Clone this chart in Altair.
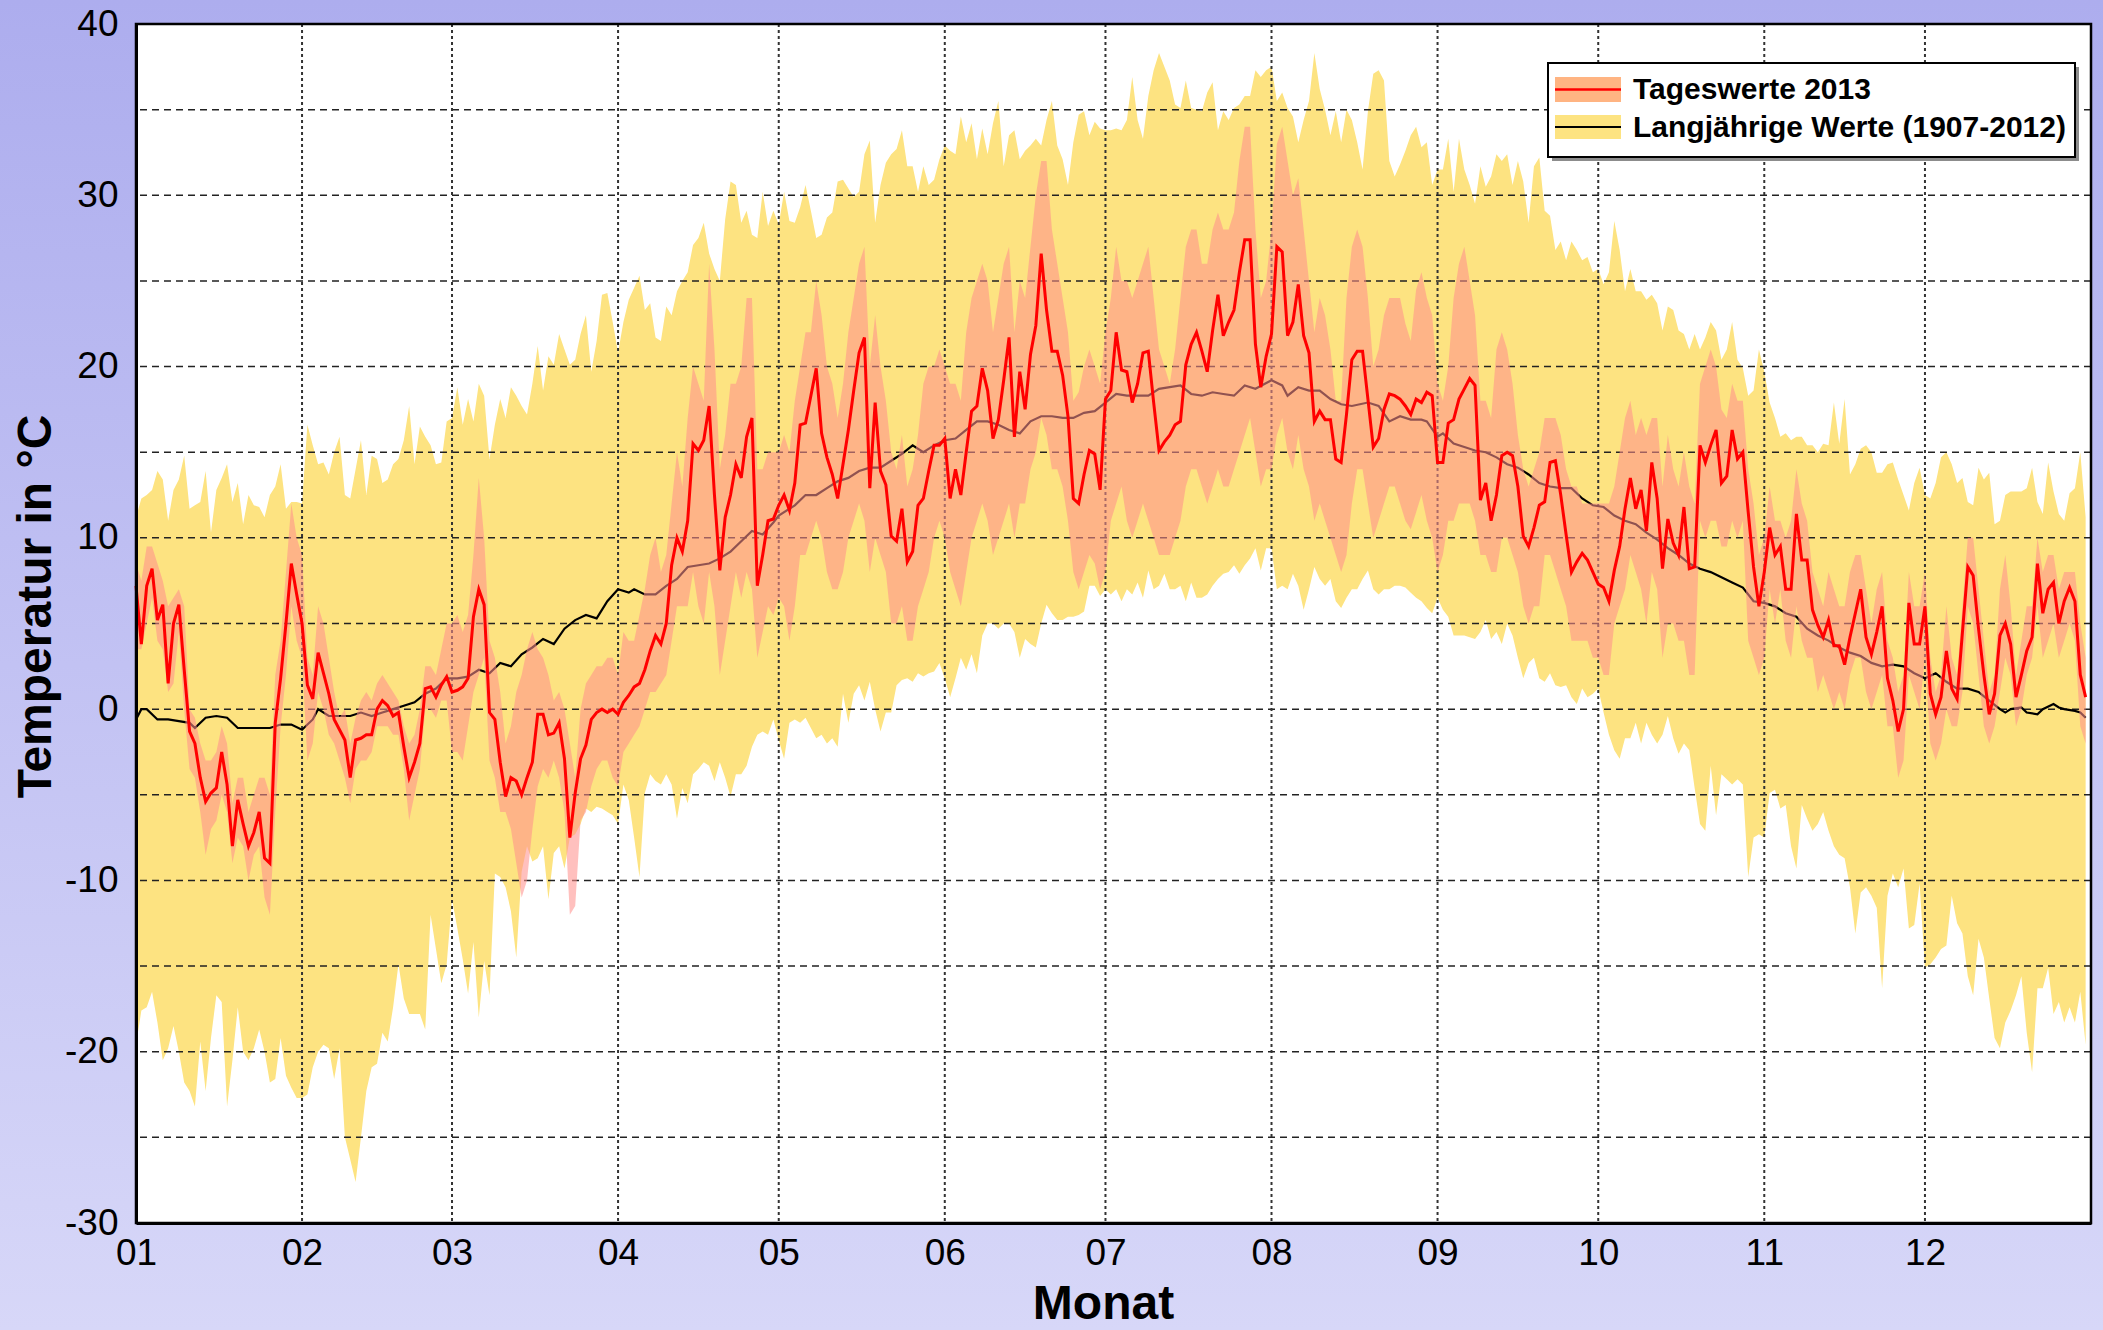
import altair as alt
import pandas as pd

# ---------------- data ----------------
MONTH_STARTS = [0, 31, 59, 90, 120, 151, 181, 212, 243, 273, 304, 334]
MONTH_LABELS = ["01", "02", "03", "04", "05", "06", "07", "08", "09", "10", "11", "12"]
Y_LABELS = [-30, -20, -10, 0, 10, 20, 30, 40]
GRID_Y = [-25, -20, -15, -10, -5, 0, 5, 10, 15, 20, 25, 30, 35]
GRID_X = MONTH_STARTS[1:]

# Tageswerte 2013: daily mean (red line)
RED = [
    7.2, 3.8, 7.2, 8.2, 5.2, 6.1, 1.5, 5.0, 6.1, 2.3,
    -1.3, -2.0, -4.0, -5.4, -4.9, -4.6, -2.5, -4.4, -8.0, -5.3,
    -6.7, -8.0, -7.2, -6.0, -8.7, -9.0, -0.8, 1.8, 5.0, 8.5,
    6.7, 5.0, 1.4, 0.6, 3.3, 2.1, 0.9, -0.6, -1.2, -1.8,
    -4.0, -1.8, -1.7, -1.5, -1.5, 0.0, 0.5, 0.2, -0.4, -0.2,
    -2.2, -4.0, -3.1, -2.0, 1.2, 1.3, 0.7, 1.4, 1.9, 1.0,
    1.1, 1.3, 1.8, 5.4, 7.0, 6.1, -0.2, -0.6, -3.1, -5.1,
    -4.0, -4.2, -5.0, -4.0, -3.1, -0.3, -0.3, -1.5, -1.4, -0.8,
    -2.9, -7.5, -4.9, -2.9, -2.1, -0.6, -0.2, 0.0, -0.2, 0.0,
    -0.3, 0.4, 0.8, 1.3, 1.5, 2.3, 3.4, 4.3, 3.8, 5.0,
    8.4, 10.0, 9.2, 11.0, 15.5, 15.1, 15.7, 17.7, 12.5, 8.1,
    11.2, 12.5, 14.3, 13.5, 15.9, 17.0, 7.2, 9.0, 11.0, 11.1,
    11.9, 12.5, 11.6, 13.2, 16.6, 16.7, 18.3, 19.9, 16.1, 14.7,
    13.7, 12.3, 14.3, 16.3, 18.6, 20.8, 21.7, 12.9, 17.9, 13.9,
    13.1, 10.1, 9.8, 11.7, 8.6, 9.2, 11.9, 12.3, 13.9, 15.4,
    15.4, 15.8, 12.3, 14.0, 12.5, 15.0, 17.4, 17.7, 19.9, 18.6,
    15.8, 16.9, 19.2, 21.7, 15.9, 19.7, 17.5, 20.7, 22.4, 26.6,
    23.3, 20.9, 20.9, 19.5, 17.1, 12.3, 12.0, 13.7, 15.1, 14.9,
    12.8, 18.1, 18.6, 22.0, 19.8, 19.7, 17.9, 19.0, 20.8, 20.9,
    17.9, 15.1, 15.6, 16.0, 16.6, 16.8, 20.1, 21.3, 22.0, 20.9,
    19.7, 22.1, 24.2, 21.8, 22.6, 23.3, 25.5, 27.4, 27.4, 21.3,
    18.8, 20.6, 21.9, 27.0, 26.7, 21.8, 22.6, 24.8, 21.8, 20.8,
    16.8, 17.4, 16.9, 16.9, 14.6, 14.4, 17.2, 20.4, 20.9, 20.9,
    18.1, 15.3, 15.8, 17.5, 18.4, 18.3, 18.1, 17.7, 17.2, 18.1,
    17.9, 18.5, 18.3, 14.4, 14.4, 16.7, 16.9, 18.1, 18.7, 19.3,
    18.9, 12.2, 13.2, 11.0, 12.5, 14.8, 15.0, 14.8, 13.0, 10.1,
    9.5, 10.6, 11.9, 12.1, 14.4, 14.5, 12.5, 10.2, 8.0, 8.6,
    9.1, 8.7, 8.0, 7.3, 7.1, 6.3, 8.1, 9.5, 11.7, 13.5,
    11.7, 12.8, 10.4, 14.4, 12.3, 8.2, 11.1, 9.7, 9.0, 11.8,
    8.2, 8.3, 15.4, 14.4, 15.4, 16.3, 13.2, 13.6, 16.3, 14.6,
    15.0, 11.5, 8.3, 6.0, 8.0, 10.6, 9.0, 9.5, 7.0, 7.0,
    11.4, 8.7, 8.7, 5.8, 4.9, 4.2, 5.2, 3.7, 3.7, 2.6,
    4.2, 5.6, 7.0, 4.2, 3.2, 4.5, 6.0, 1.8, 0.5, -1.3,
    0.0, 6.2, 3.8, 3.8, 6.0, 0.9, -0.3, 0.7, 3.4, 1.2,
    0.6, 4.5, 8.3, 7.8, 4.7, 2.0, -0.3, 0.9, 4.3, 5.0,
    3.8, 0.7, 2.0, 3.4, 4.2, 8.5, 5.6, 7.0, 7.4, 5.0,
    6.3, 7.1, 6.3, 2.0, 0.7,
]

# Tageswerte 2013: daily max / min (orange band)
OMAX = [
    8.5, 7.5, 9.5, 9.5, 8.5, 7.5, 6, 6.5, 7, 6,
    0, -0.5, -2, -3, -3, -2.5, -1, -2, -5.5, -4,
    -4, -6, -5, -4, -4, -5, 2, 4, 8, 12,
    10, 9, 3, 2, 6, 5, 3, 1, -0.5, 0,
    -2, -0.5, 0.5, 1, 0.5, 1.5, 2, 1.5, 1, 0.5,
    -1, -2, -1.5, 0, 2.5, 2.5, 2, 3.5, 5, 5,
    5.5, 4.5, 5.5, 9, 13.5, 10, 4, 3, 1, -2,
    -1, 1, 2, 3.5, 4.5, 3.5, 3, 2, 0.5, 1,
    0, -2, -4, 0, 1.5, 2, 2.5, 2.5, 3, 3,
    2, 4.5, 4, 4, 5.5, 7, 9, 10, 8, 9,
    12, 15, 13, 17, 20, 19, 18, 26, 21, 14,
    16, 19, 19, 20, 24, 24, 14, 14, 15, 15,
    15, 16, 15, 18, 20, 22, 22, 25, 23, 20,
    19, 17, 19, 22, 24, 26, 27, 20, 23, 20,
    18, 15, 14, 16, 13, 14, 16, 19, 20, 20,
    21, 20, 19, 19, 18, 22, 24, 25, 26, 25,
    22, 24, 26, 27, 22, 25, 24, 27, 30, 32,
    32, 28, 26, 24, 22, 18, 18.5, 20, 21, 20,
    19, 22, 24, 27, 25, 25, 24, 25, 26, 27,
    24, 21, 20, 19, 21, 24, 27, 28, 28, 26,
    26, 28, 29, 28, 28, 29, 32, 34, 34, 28,
    24, 25, 28, 33, 34, 32, 30, 31, 28, 25,
    22, 24, 23, 21, 18, 18, 24, 27, 28, 27,
    24, 20, 21, 23, 24, 24, 24, 22.5, 21.5, 24.5,
    25.5, 24, 23, 19, 18, 20, 24, 26, 27, 25,
    23, 18, 18, 17, 21, 22, 21, 19, 16, 14,
    13, 14, 15, 17, 17, 17, 16, 14, 13, 13,
    12, 12, 12, 12, 12, 12, 13, 15, 17, 18,
    16, 17, 16, 17, 17, 13, 16, 14, 13, 15,
    13, 12, 19, 20, 21, 20, 17.5, 17, 19, 18,
    18, 14, 12, 9, 10, 13, 11, 11, 10, 11,
    14, 12, 11, 8, 7, 6, 8, 7, 6, 6,
    8, 9, 9, 7, 5, 7, 8, 4, 3, 1,
    2, 8, 6, 6, 8, 3, 1, 2, 6, 3,
    2, 6, 10, 10, 7, 4, 1, 2, 7, 9,
    6, 2, 4, 6, 6, 10, 8, 9, 9, 7,
    8, 8, 8, 5, 3,
]
OMIN = [
    3.5, 3.5, 5, 6.5, 4, 3.5, 1, 1.5, 4.5, 0,
    -3.5, -4, -6, -8.5, -7, -6.5, -5, -6, -9, -7.5,
    -8, -10, -8.5, -8, -11, -12, -6, -1, 2, 6,
    4, 3, -3, -2, 1, 0, -1.5, -2, -3, -4,
    -5.5, -3.5, -3, -3, -2.5, -1, -1, -1, -1.5, -1.5,
    -3.5, -6.5, -5, -3.5, 0, 0, -0.5, 0.5, 0.5, -2.5,
    -2.5, -3, -1, 1, 2, 3, -3, -4, -6, -6,
    -7, -9, -11, -10, -7, -4.5, -3.5, -4, -3, -4,
    -6, -12, -11.5, -6.5, -6, -4.5, -3.5, -3, -3, -4,
    -4.5, -2.5, -2, -1.5, -1, 0, 1, 1, 1.5, 2,
    4, 6, 6, 6, 8, 6, 5, 8, 6, 2,
    4, 6, 8, 6.5, 8, 7, 3, 4.5, 6, 5.5,
    6.5, 6, 4, 6, 9, 9, 10, 11, 10, 8,
    7, 7, 8, 10, 11, 12, 11, 8, 10, 9,
    8, 5, 5, 6, 4, 4, 6, 7, 8, 10,
    11, 10, 8, 7, 6, 8, 10, 11, 12, 11,
    9, 10, 11, 12, 10, 12, 12, 14, 15, 17,
    16, 14, 14, 13, 11, 8, 7, 8, 9, 8.5,
    7, 8, 11, 12, 13, 11, 10, 11, 12, 11,
    10, 9, 9, 9, 10, 11, 13, 14, 14, 13,
    12, 13, 14, 13, 13, 14, 15, 16, 17, 15,
    13, 14, 14, 16, 17, 15, 14, 16, 14, 13,
    11, 12, 11, 10, 9, 8, 9, 12, 14, 14,
    12, 10, 11, 12, 13, 13, 12, 11, 10.5, 11.5,
    12.5, 11, 10, 8, 9, 11, 11, 12, 12, 12,
    11, 9, 9, 8, 8, 10, 10, 9, 8, 6,
    5, 6, 6, 9, 9, 8, 7, 6, 4, 4,
    4, 4, 3, 3, 2, 2, 5, 6, 7, 9,
    8, 7, 5, 8, 7, 3, 5, 5, 4, 4,
    2, 2, 11, 10, 11, 11, 9.5, 9.5, 11, 10,
    11, 4, 3, 2, 3, 7, 5, 7, 4, 3,
    6, 4, 3, 3, 1, 2, 1, 0, 1, 0,
    2, 3, 3, 1, 0, 1, 2, -1, -1, -4,
    -3, 2, 1, 0, 3, -2, -3, -2, 0, -1,
    -1, 1, 6, 5, 2, -1, -2, -1, 1, 3,
    2, -1, 0, 2, 3, 6, 3, 4, 5, 3,
    4, 5, 4, -1, -2,
]

# Langjaehrige Werte 1907-2012: absolute max / min (yellow band)
YMAX = [
    11.2, 12.3, 12.5, 12.8, 13.9, 13.4, 11.0, 12.8, 13.4, 14.8,
    11.7, 11.9, 12.1, 13.9, 10.3, 12.8, 13.5, 14.3, 12.1, 13.2,
    10.8, 12.5, 11.9, 11.8, 11.2, 12.5, 13.0, 14.3, 11.7, 12.1,
    12.1, 12.0, 16.6, 15.4, 14.3, 14.4, 13.7, 15.0, 15.9, 12.5,
    12.3, 14.0, 15.7, 12.5, 14.8, 14.6, 13.2, 13.4, 14.3, 14.6,
    15.7, 17.7, 14.3, 16.5, 15.9, 15.4, 14.3, 14.4, 16.8, 17.0,
    18.8, 16.6, 18.1, 16.8, 19.0, 18.3, 14.6, 16.6, 18.1, 17.0,
    18.8, 18.3, 17.7, 17.2, 19.0, 21.2, 18.6, 20.6, 20.1, 21.9,
    21.0, 20.1, 20.4, 21.9, 23.0, 19.7, 21.5, 24.2, 24.3, 22.6,
    20.8, 22.6, 23.9, 24.6, 25.3, 23.3, 23.7, 21.7, 21.5, 23.5,
    23.0, 24.4, 25.0, 25.5, 27.1, 27.5, 28.4, 26.6, 25.7, 25.0,
    28.6, 30.8, 30.6, 28.4, 29.1, 27.7, 27.5, 30.2, 28.2, 29.1,
    28.3, 30.2, 28.5, 28.4, 29.3, 30.6, 29.1, 27.5, 27.7, 28.7,
    29.0, 30.8, 30.9, 30.4, 29.9, 30.2, 32.4, 33.2, 28.4, 30.6,
    31.9, 32.4, 32.7, 33.8, 31.7, 31.7, 30.2, 31.7, 30.6, 30.9,
    32.1, 32.9, 32.6, 32.4, 34.6, 33.1, 34.2, 32.1, 33.9, 32.4,
    34.2, 35.5, 31.7, 33.5, 33.8, 32.1, 32.6, 32.9, 33.3, 32.9,
    34.4, 35.5, 32.9, 32.1, 30.6, 33.1, 34.7, 34.9, 33.5, 34.3,
    33.9, 33.8, 33.8, 33.9, 33.8, 34.4, 36.9, 34.4, 33.3, 35.8,
    37.3, 38.3, 37.5, 36.7, 35.3, 35.1, 36.7, 35.1, 35.0, 34.9,
    36.0, 36.6, 33.8, 34.9, 34.4, 35.1, 35.3, 35.8, 35.8, 37.3,
    36.9, 37.3, 37.5, 35.5, 36.0, 35.1, 34.6, 33.1, 34.4, 35.5,
    38.3, 36.2, 35.0, 33.5, 34.9, 33.1, 35.0, 34.4, 33.1, 31.5,
    34.9, 37.1, 37.3, 36.7, 32.0, 31.1, 31.8, 32.6, 33.5, 34.0,
    32.8, 33.1, 30.6, 31.5, 31.5, 33.3, 30.2, 33.3, 31.5, 30.6,
    29.5, 31.7, 30.5, 31.1, 32.4, 32.0, 32.4, 30.6, 32.0, 30.8,
    28.4, 31.7, 32.2, 29.1, 28.8, 26.8, 27.3, 26.2, 27.3, 26.8,
    26.2, 26.4, 25.5, 25.7, 24.8, 25.5, 28.5, 26.8, 24.4, 25.7,
    24.4, 24.4, 23.9, 24.2, 23.7, 22.1, 23.5, 23.3, 22.1, 21.9,
    21.0, 21.9, 21.0, 21.7, 22.6, 22.1, 20.4, 21.0, 22.6, 20.4,
    19.9, 18.3, 18.6, 21.0, 19.7, 17.9, 17.0, 15.9, 16.1, 15.7,
    15.9, 15.9, 15.4, 15.4, 15.0, 15.5, 15.4, 17.9, 15.5, 18.1,
    13.7, 14.3, 15.2, 15.4, 15.0, 13.8, 13.8, 14.3, 14.4, 13.4,
    12.5, 11.6, 13.2, 14.1, 12.5, 12.3, 13.2, 14.7, 15.0, 14.3,
    13.2, 13.5, 12.1, 11.9, 14.1, 13.4, 13.8, 10.8, 11.0, 12.5,
    12.7, 12.7, 12.7, 12.9, 14.1, 12.1, 11.4, 14.4, 12.7, 11.4,
    11.0, 12.6, 12.9, 15.0, 11.2,
]
YMIN = [
    -19.6, -17.6, -17.4, -16.5, -18.3, -20.5, -19.8, -18.5, -20.0, -21.8,
    -22.3, -23.2, -19.4, -22.3, -19.2, -16.7, -17.1, -23.2, -20.5, -17.4,
    -20.0, -20.5, -19.8, -18.7, -20.0, -21.8, -21.6, -19.2, -21.4, -22.1,
    -22.7, -22.7, -22.5, -20.9, -20.0, -19.6, -19.8, -21.6, -19.8, -25.0,
    -26.3, -27.6, -25.0, -22.3, -20.9, -20.7, -18.9, -19.4, -17.4, -14.9,
    -16.9, -17.8, -17.8, -17.8, -18.7, -12.0, -14.0, -16.0, -14.9, -11.1,
    -12.8, -14.6, -16.6, -13.6, -18.0, -14.7, -16.7, -9.6, -9.8, -10.4,
    -11.8, -14.5, -9.5, -8.0, -8.9, -8.7, -8.0, -11.1, -8.4, -8.0,
    -9.3, -7.5, -7.3, -6.7, -5.8, -6.0, -5.7, -5.8, -6.0, -6.2,
    -6.7, -4.4, -5.3, -7.5, -9.8, -4.9, -3.8, -4.2, -4.4, -3.8,
    -4.4, -6.4, -4.6, -5.5, -3.8, -3.5, -3.1, -3.3, -4.2, -3.1,
    -4.0, -5.1, -3.8, -3.8, -3.3, -2.2, -1.5, -1.3, -1.5, -0.6,
    -1.8, -2.9, -0.8, -0.6, -0.8, -0.5, -1.1, -1.7, -1.5, -2.0,
    -1.7, -2.2, 0.9, -0.8, 0.9, 1.4, 0.5, 1.6, 0.0, -1.3,
    -0.2, -0.2, 1.4, 1.7, 1.8, 1.6, 2.1, 1.9, 2.1, 2.2,
    2.7, 1.8, 0.7, 1.8, 3.0, 2.3, 3.2, 2.1, 4.3, 5.0,
    5.0, 4.7, 5.0, 5.0, 4.5, 3.0, 4.1, 3.8, 3.6, 5.0,
    6.1, 5.6, 5.2, 5.2, 5.4, 5.4, 5.5, 5.7, 7.2, 7.2,
    6.6, 7.0, 6.7, 7.0, 6.3, 7.0, 6.7, 7.4, 6.5, 8.1,
    7.0, 7.2, 7.9, 7.0, 7.0, 7.2, 6.3, 7.4, 6.5, 6.5,
    6.7, 7.2, 7.6, 7.9, 8.0, 8.4, 7.9, 8.4, 8.8, 9.4,
    8.1, 9.4, 9.4, 7.0, 7.2, 7.0, 7.9, 7.2, 5.8, 7.0,
    8.3, 7.6, 7.2, 7.6, 6.3, 5.9, 6.5, 7.0, 7.0, 7.6,
    8.1, 7.0, 6.7, 7.0, 7.0, 7.2, 7.2, 7.1, 6.8, 6.5,
    6.3, 5.9, 5.6, 6.5, 5.8, 5.4, 4.3, 4.3, 4.3, 4.2,
    4.1, 4.5, 5.2, 4.1, 4.5, 3.8, 5.0, 4.3, 3.0, 1.8,
    2.7, 3.0, 1.8, 1.6, 2.1, 1.4, 1.3, 1.4, 0.7, 0.3,
    1.2, 0.7, 0.9, 1.2, -0.2, -1.5, -2.4, -2.9, -1.7, -1.7,
    -0.8, -2.0, -0.8, -1.5, -2.0, -1.5, -0.4, -1.7, -2.6, -2.0,
    -2.4, -4.6, -6.7, -7.1, -3.3, -6.2, -3.8, -4.1, -4.4, -4.1,
    -4.4, -9.8, -7.5, -7.3, -7.5, -4.9, -4.7, -5.8, -5.6, -8.0,
    -9.3, -5.6, -6.4, -7.1, -6.7, -6.0, -7.1, -8.0, -8.5, -8.7,
    -10.4, -13.1, -10.7, -10.4, -10.9, -11.6, -16.3, -10.9, -9.6, -10.4,
    -9.3, -12.8, -12.6, -10.2, -15.1, -14.9, -14.5, -14.0, -13.8, -10.9,
    -12.5, -13.1, -15.6, -16.7, -13.4, -14.5, -16.9, -19.2, -19.8, -18.3,
    -17.6, -16.7, -15.6, -18.9, -21.2, -16.3, -16.3, -15.1, -17.8, -17.1,
    -18.3, -17.4, -18.3, -16.5, -19.6,
]

# Langjaehrige Werte: mean (black line)
BLACK_DAY = [
    0, 1, 2, 4, 6, 8, 10, 11, 13, 15, 17, 19, 21, 23, 25, 27, 29, 31, 33, 34,
    36, 38, 40, 42, 44, 46, 48, 50, 52, 54, 56, 58, 60, 62, 64, 66, 68, 70, 72, 74,
    76, 78, 80, 82, 84, 86, 88, 90, 92, 93, 95, 97, 99, 101, 103, 105, 107, 109, 111, 113,
    115, 117, 119, 120, 123, 125, 127, 129, 131, 133, 135, 137, 139, 141, 143, 145, 147, 149, 151, 153,
    155, 157, 159, 161, 163, 165, 167, 169, 171, 173, 175, 177, 179, 181, 183, 185, 187, 189, 191, 193,
    195, 197, 199, 201, 203, 205, 207, 209, 212, 214, 215, 217, 219, 221, 223, 225, 227, 230, 232, 234,
    236, 238, 240, 241, 243, 244, 246, 248, 250, 252, 254, 256, 258, 260, 262, 264, 266, 268, 270, 272,
    274, 276, 278, 280, 282, 284, 286, 288, 290, 292, 294, 296, 298, 300, 302, 304, 306, 308, 310, 312,
    314, 316, 318, 320, 322, 324, 326, 328, 330, 332, 334, 336, 338, 340, 342, 344, 346, 348, 349, 350,
    352, 353, 355, 356, 358, 359, 360, 362, 363, 364,
]
BLACK_VAL = [
    -0.6, 0.0, 0.0, -0.6, -0.6, -0.7, -0.8, -1.1, -0.5, -0.4, -0.5, -1.1, -1.1, -1.1, -1.1, -0.9, -0.9, -1.2, -0.6, 0.0,
    -0.4, -0.4, -0.4, -0.2, -0.4, -0.2, 0.0, 0.2, 0.4, 0.9, 1.2, 1.8, 1.8, 1.9, 2.3, 2.1, 2.7, 2.5, 3.2, 3.6,
    4.1, 3.8, 4.7, 5.2, 5.5, 5.3, 6.3, 7.0, 6.8, 7.0, 6.7, 6.7, 7.2, 7.6, 8.3, 8.4, 8.5, 8.8, 9.2, 9.8,
    10.4, 10.2, 10.9, 11.3, 11.9, 12.5, 12.5, 12.9, 13.3, 13.5, 13.9, 14.1, 14.1, 14.5, 14.9, 15.4, 15.0, 15.4, 15.7, 15.8,
    16.3, 16.8, 16.8, 16.6, 16.3, 16.1, 16.8, 17.1, 17.1, 17.0, 17.0, 17.3, 17.4, 17.9, 18.4, 18.3, 18.3, 18.3, 18.7, 18.8,
    18.9, 18.4, 18.3, 18.5, 18.4, 18.3, 18.9, 18.7, 19.2, 18.9, 18.3, 18.8, 18.6, 18.6, 18.1, 17.8, 17.7, 17.9, 17.7, 16.8,
    17.1, 16.9, 16.9, 16.8, 15.9, 16.1, 15.5, 15.3, 15.1, 15.0, 14.7, 14.3, 14.1, 13.7, 13.2, 13.0, 12.9, 12.9, 12.3, 11.9,
    11.8, 11.3, 11.0, 10.8, 10.3, 9.9, 9.4, 9.0, 8.5, 8.2, 8.0, 7.7, 7.4, 7.1, 6.3, 6.2, 6.0, 5.6, 5.4, 4.7,
    4.3, 4.0, 3.6, 3.3, 3.1, 2.7, 2.5, 2.6, 2.5, 2.1, 1.8, 2.1, 1.6, 1.2, 1.2, 1.0, 0.5, 0.0, -0.2, 0.0,
    0.1, -0.2, -0.3, 0.0, 0.3, 0.1, 0.0, -0.1, -0.2, -0.5,
]

for arr in (RED, OMAX, OMIN, YMAX, YMIN):
    assert len(arr) == 365, len(arr)
assert len(BLACK_DAY) == len(BLACK_VAL), (len(BLACK_DAY), len(BLACK_VAL))

# ---------------- layout ----------------
W, H = 1955, 1199
PAD = {"left": 136, "top": 24, "right": 12, "bottom": 107}
FONT = "Liberation Sans"

df = pd.DataFrame({
    "day": list(range(365)),
    "red": RED, "omax": OMAX, "omin": OMIN, "ymax": YMAX, "ymin": YMIN,
})
bdf = pd.DataFrame({"day": BLACK_DAY, "val": BLACK_VAL})
gy = pd.DataFrame({"v": GRID_Y})
gx = pd.DataFrame({"v": GRID_X})
one = pd.DataFrame({"a": [0]})

xs = alt.Scale(domain=[0, 365], nice=False, zero=False)
ys = alt.Scale(domain=[-30, 40], nice=False, zero=False)

label_expr = "[" + ",".join("'%s'" % s for s in MONTH_LABELS) + "][indexof([" + \
    ",".join(str(v) for v in MONTH_STARTS) + "], datum.value)]"

# note: titleX / titleY are relative to the axis group (bottom axis origin = plot bottom)
xaxis = alt.Axis(
    values=MONTH_STARTS, labelExpr=label_expr, labelFontSize=37, labelFont=FONT,
    labelColor="black", labelPadding=12, ticks=False, tickSize=0, grid=False,
    domainColor="black", domainWidth=3, labelFlush=False, labelOverlap=False,
    title="Monat", titleFontSize=48, titleFont=FONT, titleFontWeight="bold",
    titleColor="black", titleX=967, titleY=95, titleBaseline="alphabetic",
    zindex=1,
)
yaxis = alt.Axis(
    values=Y_LABELS, labelExpr="'' + datum.value", labelFontSize=37, labelFont=FONT,
    labelColor="black", labelPadding=18, ticks=False, tickSize=0, grid=False,
    domainColor="black", domainWidth=3, labelFlush=False, labelOverlap=False,
    title="Temperatur in °C", titleFontSize=48, titleFont=FONT, titleFontWeight="bold",
    titleColor="black", titleX=-100, titleY=582, titleBaseline="middle", titleAngle=270,
    zindex=1,
)


def X(field):
    return alt.X(field, scale=xs, axis=xaxis)


def Y(field):
    return alt.Y(field, scale=ys, axis=yaxis)


grad = alt.LinearGradient(
    gradient="linear",
    stops=[alt.GradientStop(color="#ADADEE", offset=0),
           alt.GradientStop(color="#D7D7F8", offset=1)],
    x1=0, x2=0, y1=0, y2=1,
)

bg = alt.Chart(one).mark_rect(color=grad).encode(
    x=alt.value(-PAD["left"]), x2=alt.value(W + PAD["right"]),
    y=alt.value(-PAD["top"]), y2=alt.value(H + PAD["bottom"]))
plot_bg = alt.Chart(one).mark_rect(color="white").encode(
    x=alt.value(0), x2=alt.value(W), y=alt.value(0), y2=alt.value(H))

yellow = alt.Chart(df).mark_area(color="#FDE381", opacity=1).encode(
    x=X("day:Q"), y=Y("ymax:Q"), y2="ymin:Q")
hgrid = alt.Chart(gy).mark_rule(color="#222222", strokeWidth=1.5, strokeDash=[7, 5]).encode(
    y=Y("v:Q"))
vgrid = alt.Chart(gx).mark_rule(color="#333333", strokeWidth=2, strokeDash=[3, 3]).encode(
    x=X("v:Q"))
black = alt.Chart(bdf).mark_line(color="black", strokeWidth=2.2).encode(
    x=X("day:Q"), y=Y("val:Q"))
orange = alt.Chart(df).mark_area(color="#FF918C", opacity=0.57).encode(
    x=X("day:Q"), y=Y("omax:Q"), y2="omin:Q")
red = alt.Chart(df).mark_line(color="#FF0000", strokeWidth=3).encode(
    x=X("day:Q"), y=Y("red:Q"))

frame = alt.Chart(one).mark_rect(fillOpacity=0, stroke="black", strokeWidth=2.5).encode(
    x=alt.value(0), x2=alt.value(W), y=alt.value(0), y2=alt.value(H))

# legend (drawn as marks, top right)
LX0, LX1, LY0, LY1 = 1412, 1939, 39, 133
leg_shadow = alt.Chart(one).mark_rect(color="#8C8C8C").encode(
    x=alt.value(LX0 + 4), x2=alt.value(LX1 + 4), y=alt.value(LY0 + 4), y2=alt.value(LY1 + 4))
leg_box = alt.Chart(one).mark_rect(color="white", stroke="black", strokeWidth=2).encode(
    x=alt.value(LX0), x2=alt.value(LX1), y=alt.value(LY0), y2=alt.value(LY1))
sw1 = alt.Chart(one).mark_rect(color="#FFB482").encode(
    x=alt.value(1419), x2=alt.value(1485), y=alt.value(53), y2=alt.value(78))
ln1 = alt.Chart(one).mark_rule(color="#FF0000", strokeWidth=2.5).encode(
    x=alt.value(1419), x2=alt.value(1485), y=alt.value(65.5))
sw2 = alt.Chart(one).mark_rect(color="#FDE381").encode(
    x=alt.value(1419), x2=alt.value(1485), y=alt.value(91), y2=alt.value(115))
ln2 = alt.Chart(one).mark_rule(color="black", strokeWidth=2).encode(
    x=alt.value(1419), x2=alt.value(1485), y=alt.value(103))
tx1 = alt.Chart(one).mark_text(
    text="Tageswerte 2013", font=FONT, fontSize=30, fontWeight="bold",
    align="left", baseline="middle", color="black").encode(
    x=alt.value(1497), y=alt.value(66))
tx2 = alt.Chart(one).mark_text(
    text="Langjährige Werte (1907-2012)", font=FONT, fontSize=30, fontWeight="bold",
    align="left", baseline="middle", color="black").encode(
    x=alt.value(1497), y=alt.value(104))

chart = alt.layer(
    bg, plot_bg, yellow, hgrid, vgrid, black, orange, red, frame,
    leg_shadow, leg_box, sw1, ln1, sw2, ln2, tx1, tx2,
).properties(
    width=W, height=H, padding=PAD,
    autosize=alt.AutoSizeParams(type="none"),
    background="#D7D7F8",
).configure(font=FONT).configure_view(strokeOpacity=0)

chart.save("out.html", embed_options={"renderer": "svg", "actions": False})
